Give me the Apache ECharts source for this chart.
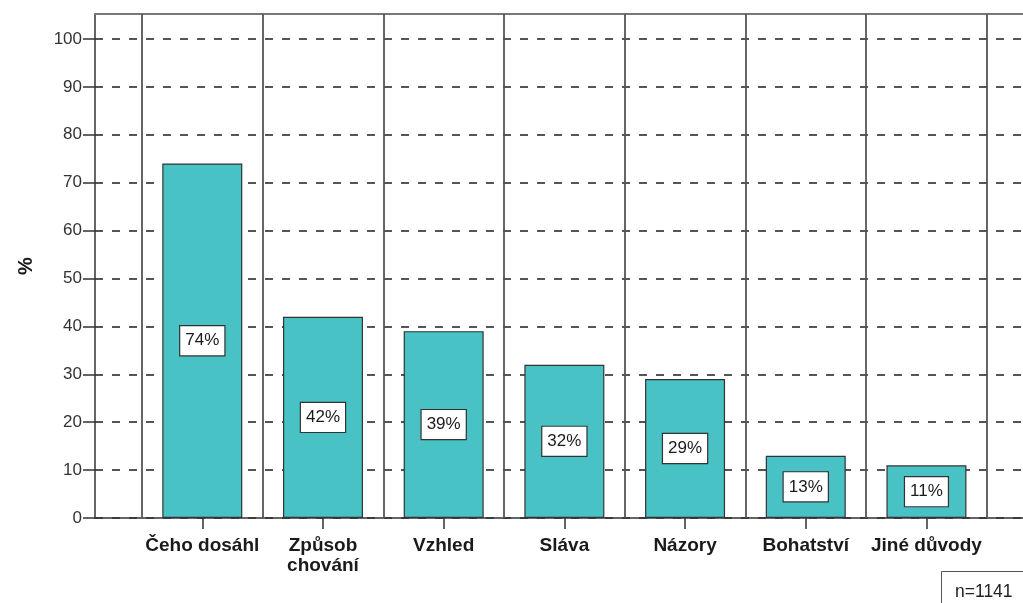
<!DOCTYPE html>
<html>
<head>
<meta charset="utf-8">
<title>Důvody</title>
<script src="https://cdn.jsdelivr.net/npm/echarts@6/dist/echarts.min.js"></script>
<style>
  html, body { margin: 0; padding: 0; background: #fff; }
  #chart { width: 1023px; height: 603px; }
</style>
</head>
<body>
<div id="chart"></div>
<script>
// Categories and their shares in percent
const categories = ['Čeho dosáhl', 'Způsob\nchování', 'Vzhled', 'Sláva', 'Názory', 'Bohatství', 'Jiné důvody'];
const percents = [74, 42, 39, 32, 29, 13, 11];
const yTicks = [0, 10, 20, 30, 40, 50, 60, 70, 80, 90, 100];
const sampleNote = 'n=1141';

const FONT = '"Liberation Sans", Arial, sans-serif';

// Category i is centred at x = i on a numeric axis so that
// the separator lines can sit halfway between neighbours.
const catIndex = categories.map((_, i) => i);
const separators = categories.concat(['']).map((_, i) => i - 0.5);
const X_MIN = -0.889;
const X_MAX = 6.80;

const chart = echarts.init(document.getElementById('chart'), null, { renderer: 'canvas' });

chart.setOption({
  animation: false,
  backgroundColor: '#ffffff',
  textStyle: { fontFamily: FONT },
  title: {
    text: sampleNote,
    left: 941,
    top: 571,
    padding: [12, 14, 20, 14],
    borderColor: '#555',
    borderWidth: 1,
    textStyle: { fontFamily: FONT, fontSize: 17.5, fontWeight: 'normal', color: '#222' }
  },
  grid: { left: 95, top: 14, bottom: 85, right: 0 },
  xAxis: [
    {
      type: 'value',
      min: X_MIN,
      max: X_MAX,
      axisLine: { show: true, onZero: false, lineStyle: { color: '#333', width: 1.5 } },
      axisTick: { show: true, customValues: catIndex, length: 11, lineStyle: { color: '#333', width: 1.5 } },
      axisLabel: {
        customValues: catIndex,
        formatter: v => categories[Math.round(v)] || '',
        margin: 18,
        fontFamily: FONT,
        fontSize: 19,
        fontWeight: 'bold',
        color: '#1a1a1a',
        lineHeight: 20
      },
      splitLine: { show: false }
    },
    {
      type: 'value',
      position: 'top',
      min: X_MIN,
      max: X_MAX,
      axisLine: { show: true, onZero: false, lineStyle: { color: '#777', width: 2 } },
      axisTick: { show: false },
      axisLabel: { show: false },
      splitLine: { show: false }
    }
  ],
  yAxis: {
    type: 'value',
    min: 0,
    max: 105.2,
    interval: 10,
    name: '%',
    nameLocation: 'middle',
    nameGap: 59,
    nameRotate: 90,
    nameTextStyle: { fontFamily: FONT, fontSize: 20, fontWeight: 'bold', color: '#1a1a1a' },
    axisLine: { show: true, onZero: false, lineStyle: { color: '#333', width: 1.5 } },
    axisTick: { show: true, customValues: yTicks, length: 12, lineStyle: { color: '#333', width: 1.5 } },
    axisLabel: {
      customValues: yTicks,
      margin: 13,
      fontFamily: FONT,
      fontSize: 17,
      color: '#333'
    },
    splitLine: { show: true, lineStyle: { color: '#555', width: 1.8, type: [8, 9] } }
  },
  series: [
    {
      type: 'bar',
      xAxisIndex: 0,
      barWidth: 80,
      data: percents.map((v, i) => [catIndex[i], v]),
      itemStyle: { color: '#49c2c5', borderColor: '#333', borderWidth: 1.2 },
      label: {
        show: true,
        position: 'inside',
        formatter: p => p.value[1] + '%',
        fontFamily: FONT,
        fontSize: 17,
        color: '#1a1a1a',
        backgroundColor: '#ffffff',
        borderColor: '#333',
        borderWidth: 1.2,
        lineHeight: 18,
        padding: [6, 5, 5, 5]
      },
      markLine: {
        silent: true,
        symbol: 'none',
        label: { show: false },
        lineStyle: { color: '#555', width: 1.8, type: 'solid' },
        data: separators.map(x => ({ xAxis: x }))
      }
    }
  ]
});
</script>
</body>
</html>
